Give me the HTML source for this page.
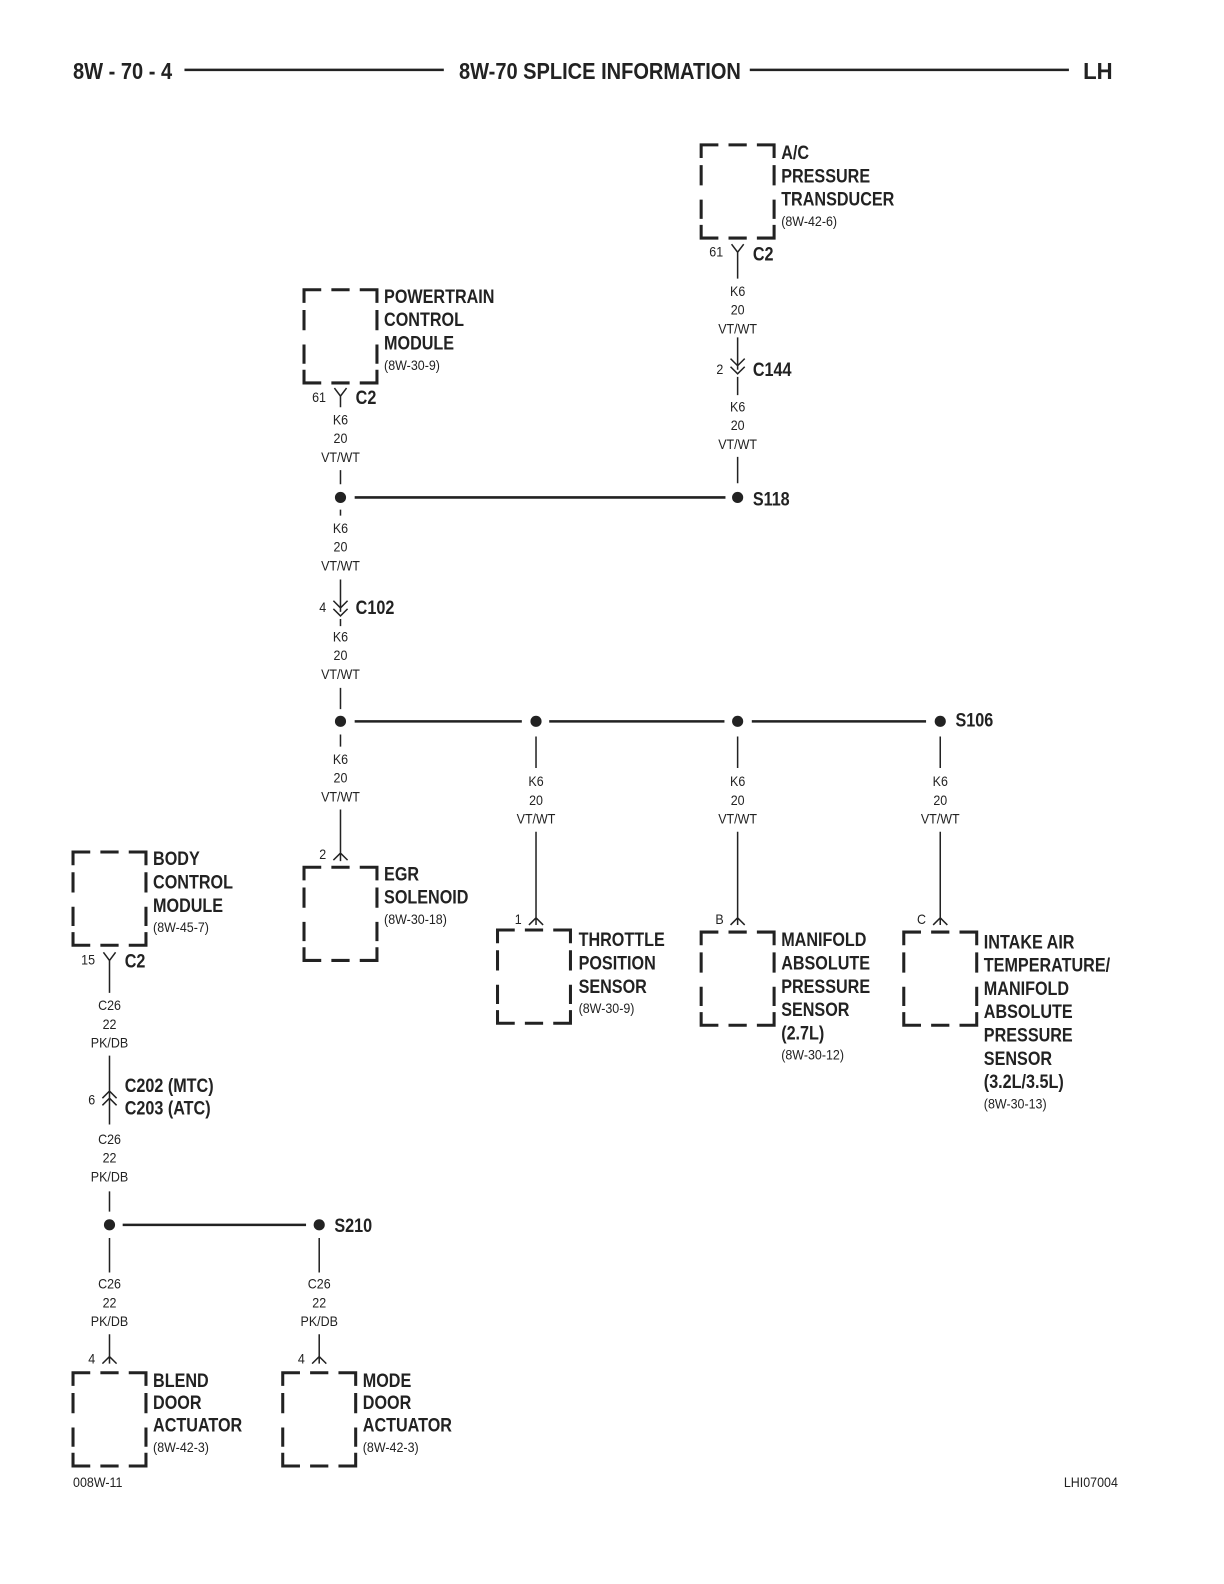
<!DOCTYPE html>
<html><head><meta charset="utf-8"><style>
html,body{margin:0;padding:0;background:#fff;}
svg{display:block;}
.b{font-family:"Liberation Sans",sans-serif;font-weight:bold;font-size:19px;fill:#222;}
.s{font-family:"Liberation Sans",sans-serif;font-size:14px;fill:#222;}
.w{font-family:"Liberation Sans",sans-serif;font-size:14px;fill:#222;text-anchor:middle;}
.h{font-family:"Liberation Sans",sans-serif;font-weight:bold;font-size:23px;fill:#222;}
</style></head><body>
<svg width="1224" height="1584" viewBox="0 0 1208 1563.5" xmlns="http://www.w3.org/2000/svg">
<defs>
<g id="box" fill="none" stroke="#222" stroke-width="3">
<path d="M0,13 V0 H17 M27,0 H45 M55,0 H72 V13 M0,20 V40 M0,54 V73 M72,20 V40 M72,54 V73 M0,79 V92 H17 M27,92 H45 M55,92 H72 V79"/>
</g>
</defs>
<rect width="1208" height="1564" fill="#fff"/>
<!-- header -->
<text class="h" transform="translate(72,78) scale(.86,1)">8W - 70 - 4</text>
<line x1="182" y1="69" x2="438" y2="69" stroke="#222" stroke-width="2.5"/>
<text class="h" transform="translate(453,78) scale(.86,1)">8W-70 SPLICE INFORMATION</text>
<line x1="740" y1="69" x2="1055" y2="69" stroke="#222" stroke-width="2.5"/>
<text class="h" transform="translate(1069,78) scale(.95,1)">LH</text>

<g stroke="#222" stroke-width="1.5" fill="none">
<!-- A/C column x=728 -->
<path d="M722,241 L728,249 L734,241 M728,249 V275"/>
<path d="M728,333 V365 M721,354 L728,361 L735,354 M721,362 L728,369 L735,362"/>
<path d="M728,372 V390 M728,451 V477"/>
<!-- PCM column x=336 -->
<path d="M330,383 L336,391 L342,383 M336,391 V402"/>
<path d="M336,464 V478 M336,503 V509"/>
<path d="M336,572 V604 M329,593 L336,600 L343,593 M329,601 L336,608 L343,601"/>
<path d="M336,611 V618 M336,679 V700 M336,725 V737"/>
<path d="M336,799 V850 M329,849 L336,842 L343,849"/>
<!-- branches -->
<path d="M529,727 V758 M529,821 V913 M522,913 L529,906 L536,913"/>
<path d="M728,727 V758 M728,821 V913 M721,913 L728,906 L735,913"/>
<path d="M928,727 V758 M928,821 V913 M921,913 L928,906 L935,913"/>
<!-- BCM column x=108 -->
<path d="M102,940 L108,948 L114,940 M108,948 V980"/>
<path d="M108,1042 V1110 M101,1084 L108,1077 L115,1084 M101,1091 L108,1084 L115,1091"/>
<path d="M108,1176 V1196 M108,1222 V1256 M315,1222 V1256"/>
<path d="M108,1317 V1346 M101,1346 L108,1339 L115,1346"/>
<path d="M315,1317 V1346 M308,1346 L315,1339 L322,1346"/>
</g>
<g stroke="#222" stroke-width="2.5">
<line x1="350" y1="491" x2="716" y2="491"/>
<line x1="350" y1="712" x2="515" y2="712"/>
<line x1="542" y1="712" x2="715" y2="712"/>
<line x1="742" y1="712" x2="914" y2="712"/>
<line x1="121" y1="1209" x2="302" y2="1209"/>
</g>
<g fill="#222">
<circle cx="728" cy="491" r="5.5"/><circle cx="336" cy="491" r="5.5"/>
<circle cx="336" cy="712" r="5.5"/><circle cx="529" cy="712" r="5.5"/>
<circle cx="728" cy="712" r="5.5"/><circle cx="928" cy="712" r="5.5"/>
<circle cx="108" cy="1209" r="5.5"/><circle cx="315" cy="1209" r="5.5"/>
</g>

<!-- boxes -->
<use href="#box" x="692" y="143"/>
<use href="#box" x="300" y="286"/>
<use href="#box" x="72" y="841"/>
<use href="#box" x="300" y="856"/>
<use href="#box" x="491" y="918"/>
<use href="#box" x="692" y="920"/>
<use href="#box" x="892" y="920"/>
<use href="#box" x="72" y="1355"/>
<use href="#box" x="279" y="1355"/>

<!-- labels -->
<g class="b">
<text transform="translate(771,157) scale(.84,1)"><tspan x="0">A/C</tspan><tspan x="0" dy="23">PRESSURE</tspan><tspan x="0" dy="23">TRANSDUCER</tspan></text>
<text transform="translate(743,257) scale(.84,1)">C2</text>
<text transform="translate(743,371) scale(.84,1)">C144</text>
<text transform="translate(743,499) scale(.84,1)">S118</text>
<text transform="translate(379,299) scale(.84,1)"><tspan x="0">POWERTRAIN</tspan><tspan x="0" dy="23">CONTROL</tspan><tspan x="0" dy="23">MODULE</tspan></text>
<text transform="translate(351,399) scale(.84,1)">C2</text>
<text transform="translate(351,606) scale(.84,1)">C102</text>
<text transform="translate(943,717) scale(.84,1)">S106</text>
<text transform="translate(379,869) scale(.84,1)"><tspan x="0">EGR</tspan><tspan x="0" dy="23">SOLENOID</tspan></text>
<text transform="translate(571,934) scale(.84,1)"><tspan x="0">THROTTLE</tspan><tspan x="0" dy="23">POSITION</tspan><tspan x="0" dy="23">SENSOR</tspan></text>
<text transform="translate(771,934) scale(.84,1)"><tspan x="0">MANIFOLD</tspan><tspan x="0" dy="23">ABSOLUTE</tspan><tspan x="0" dy="23">PRESSURE</tspan><tspan x="0" dy="23">SENSOR</tspan><tspan x="0" dy="23">(2.7L)</tspan></text>
<text transform="translate(971,936) scale(.84,1)"><tspan x="0">INTAKE AIR</tspan><tspan x="0" dy="23">TEMPERATURE/</tspan><tspan x="0" dy="23">MANIFOLD</tspan><tspan x="0" dy="23">ABSOLUTE</tspan><tspan x="0" dy="23">PRESSURE</tspan><tspan x="0" dy="23">SENSOR</tspan><tspan x="0" dy="23">(3.2L/3.5L)</tspan></text>
<text transform="translate(151,854) scale(.84,1)"><tspan x="0">BODY</tspan><tspan x="0" dy="23">CONTROL</tspan><tspan x="0" dy="23">MODULE</tspan></text>
<text transform="translate(123,955) scale(.84,1)">C2</text>
<text transform="translate(123,1078) scale(.84,1)"><tspan x="0">C202 (MTC)</tspan><tspan x="0" dy="22">C203 (ATC)</tspan></text>
<text transform="translate(330,1216) scale(.84,1)">S210</text>
<text transform="translate(151,1369) scale(.84,1)"><tspan x="0">BLEND</tspan><tspan x="0" dy="22">DOOR</tspan><tspan x="0" dy="22">ACTUATOR</tspan></text>
<text transform="translate(358,1369) scale(.84,1)"><tspan x="0">MODE</tspan><tspan x="0" dy="22">DOOR</tspan><tspan x="0" dy="22">ACTUATOR</tspan></text>
</g>
<g class="s">
<text transform="translate(771,223) scale(.88,1)">(8W-42-6)</text>
<text transform="translate(379,365) scale(.88,1)">(8W-30-9)</text>
<text transform="translate(379,912) scale(.88,1)">(8W-30-18)</text>
<text transform="translate(571,1000) scale(.88,1)">(8W-30-9)</text>
<text transform="translate(771,1046) scale(.88,1)">(8W-30-12)</text>
<text transform="translate(971,1094) scale(.88,1)">(8W-30-13)</text>
<text transform="translate(151,920) scale(.88,1)">(8W-45-7)</text>
<text transform="translate(151,1433) scale(.88,1)">(8W-42-3)</text>
<text transform="translate(358,1433) scale(.88,1)">(8W-42-3)</text>
<text transform="translate(700,253) scale(.88,1)">61</text>
<text transform="translate(707,369) scale(.88,1)">2</text>
<text transform="translate(308,397) scale(.88,1)">61</text>
<text transform="translate(315,604) scale(.88,1)">4</text>
<text transform="translate(315,848) scale(.88,1)">2</text>
<text transform="translate(508,912) scale(.88,1)">1</text>
<text transform="translate(706,912) scale(.88,1)">B</text>
<text transform="translate(905,912) scale(.88,1)">C</text>
<text transform="translate(80,952) scale(.88,1)">15</text>
<text transform="translate(87,1090) scale(.88,1)">6</text>
<text transform="translate(87,1346) scale(.88,1)">4</text>
<text transform="translate(294,1346) scale(.88,1)">4</text>
<text transform="translate(72,1468) scale(.88,1)">008W-11</text>
<text transform="translate(1050,1468) scale(.88,1)">LHI07004</text>
</g>
<g class="w">
<text transform="translate(728,292) scale(.88,1)"><tspan x="0">K6</tspan><tspan x="0" dy="18.5">20</tspan><tspan x="0" dy="18.5">VT/WT</tspan></text>
<text transform="translate(728,406) scale(.88,1)"><tspan x="0">K6</tspan><tspan x="0" dy="18.5">20</tspan><tspan x="0" dy="18.5">VT/WT</tspan></text>
<text transform="translate(336,419) scale(.88,1)"><tspan x="0">K6</tspan><tspan x="0" dy="18.5">20</tspan><tspan x="0" dy="18.5">VT/WT</tspan></text>
<text transform="translate(336,526) scale(.88,1)"><tspan x="0">K6</tspan><tspan x="0" dy="18.5">20</tspan><tspan x="0" dy="18.5">VT/WT</tspan></text>
<text transform="translate(336,633) scale(.88,1)"><tspan x="0">K6</tspan><tspan x="0" dy="18.5">20</tspan><tspan x="0" dy="18.5">VT/WT</tspan></text>
<text transform="translate(336,754) scale(.88,1)"><tspan x="0">K6</tspan><tspan x="0" dy="18.5">20</tspan><tspan x="0" dy="18.5">VT/WT</tspan></text>
<text transform="translate(529,776) scale(.88,1)"><tspan x="0">K6</tspan><tspan x="0" dy="18.5">20</tspan><tspan x="0" dy="18.5">VT/WT</tspan></text>
<text transform="translate(728,776) scale(.88,1)"><tspan x="0">K6</tspan><tspan x="0" dy="18.5">20</tspan><tspan x="0" dy="18.5">VT/WT</tspan></text>
<text transform="translate(928,776) scale(.88,1)"><tspan x="0">K6</tspan><tspan x="0" dy="18.5">20</tspan><tspan x="0" dy="18.5">VT/WT</tspan></text>
<text transform="translate(108,997) scale(.88,1)"><tspan x="0">C26</tspan><tspan x="0" dy="18.5">22</tspan><tspan x="0" dy="18.5">PK/DB</tspan></text>
<text transform="translate(108,1129) scale(.88,1)"><tspan x="0">C26</tspan><tspan x="0" dy="18.5">22</tspan><tspan x="0" dy="18.5">PK/DB</tspan></text>
<text transform="translate(108,1272) scale(.88,1)"><tspan x="0">C26</tspan><tspan x="0" dy="18.5">22</tspan><tspan x="0" dy="18.5">PK/DB</tspan></text>
<text transform="translate(315,1272) scale(.88,1)"><tspan x="0">C26</tspan><tspan x="0" dy="18.5">22</tspan><tspan x="0" dy="18.5">PK/DB</tspan></text>
</g>
</svg>
</body></html>
